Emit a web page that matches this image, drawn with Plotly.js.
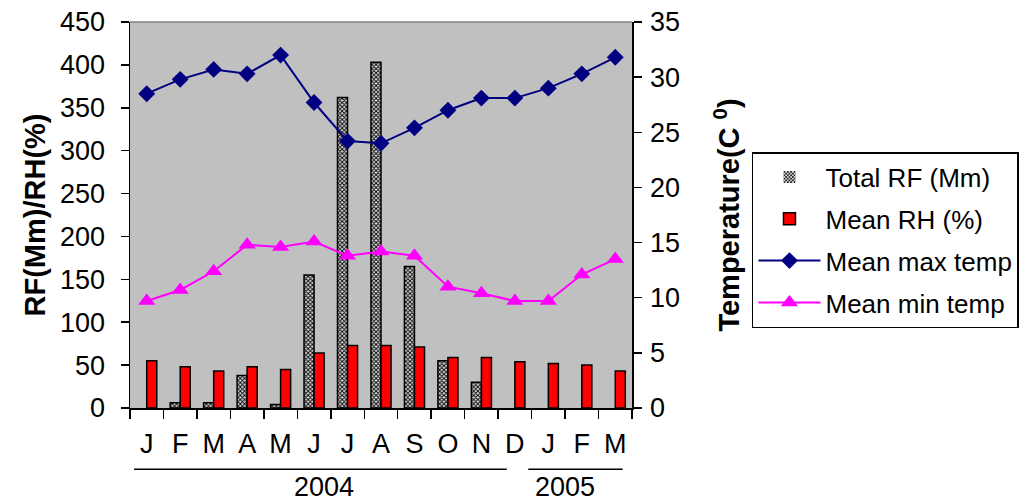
<!DOCTYPE html>
<html>
<head>
<meta charset="utf-8">
<script src="https://cdn.plot.ly/plotly-3.0.1.min.js"></script>
<style>
  html, body { margin: 0; padding: 0; background: #ffffff; }
  #chart { width: 1036px; height: 502px; }
</style>
</head>
<body>
<div id="chart"></div>
<script>
// ---- data ----
const months = ["Jan 2004","Feb 2004","Mar 2004","Apr 2004","May 2004","Jun 2004","Jul 2004","Aug 2004","Sep 2004","Oct 2004","Nov 2004","Dec 2004","Jan 2005","Feb 2005","Mar 2005"];
const monthLabels = ["J","F","M","A","M","J","J","A","S","O","N","D","J","F","M"];
const totalRF = [0, 6, 6, 38, 4, 155, 362, 403, 165, 55, 30, 0, 0, 0, 0];
const meanRH = [55, 48, 43, 48, 45, 64, 73, 73, 71, 59, 59, 54, 52, 50, 43];
const meanMaxTemp = [28.5, 29.8, 30.7, 30.3, 32.0, 27.7, 24.2, 24.0, 25.4, 27.0, 28.1, 28.1, 29.0, 30.3, 31.8];
const meanMinTemp = [9.7, 10.7, 12.4, 14.8, 14.6, 15.1, 13.8, 14.2, 13.8, 11.0, 10.4, 9.7, 9.7, 12.1, 13.5];
const years = ["2004", "2005"];

const font = "Liberation Sans, Arial, sans-serif";
const TICK = 27;

const traces = [
  {
    type: "bar", name: "Total RF (Mm)", x: months, y: totalRF, yaxis: "y",
    legendgroup: "a",
    marker: {
      color: "#909090",
      line: { color: "#000000", width: totalRF.map(v => v > 0 ? 1.5 : 0) },
      pattern: { shape: "x", size: 3, fgcolor: "#000000", bgcolor: "#d8d8d8", solidity: 0.5 }
    }
  },
  {
    type: "bar", name: "Mean RH (%)", x: months, y: meanRH, yaxis: "y",
    legendgroup: "b",
    marker: { color: "#ff0000", line: { color: "#000000", width: 1.5 } }
  },
  {
    type: "scatter", mode: "lines+markers", name: "Mean max temp", x: months, y: meanMaxTemp, yaxis: "y2",
    legendgroup: "c",
    line: { color: "#000080", width: 2 },
    marker: { symbol: "diamond", size: 13, color: "#000080" }
  },
  {
    type: "scatter", mode: "lines+markers", name: "Mean min temp", x: months, y: meanMinTemp, yaxis: "y2",
    legendgroup: "d",
    line: { color: "#ff00ff", width: 2 },
    marker: { symbol: "triangle-up", size: 15, color: "#ff00ff" }
  }
];

const layout = {
  width: 1036, height: 502,
  margin: { l: 130, r: 404, t: 22, b: 94, pad: 0 },
  paper_bgcolor: "#ffffff",
  plot_bgcolor: "#c0c0c0",
  font: { family: font, size: TICK, color: "#000000" },
  barmode: "group",
  bargap: 0.4,
  bargroupgap: 0,
  showlegend: true,
  legend: {
    x: 1.239, y: 0.663, xanchor: "left", yanchor: "top",
    bgcolor: "#ffffff", bordercolor: "#000000", borderwidth: 1.5,
    font: { family: font, size: 26, color: "#000000" },
    itemwidth: 62,
    tracegroupgap: 5,
    traceorder: "grouped"
  },
  xaxis: {
    type: "category",
    categoryorder: "array", categoryarray: months,
    tickmode: "array", tickvals: months, ticktext: monthLabels,
    tickson: "boundaries",
    ticks: "outside", ticklen: 9, tickwidth: 1.5, tickcolor: "#000000",
    ticklabelstandoff: 11,
    showline: true, linecolor: "#000000", linewidth: 1.5,
    showgrid: false, zeroline: false,
    tickfont: { family: font, size: TICK },
    range: [-0.5, 14.5]
  },
  yaxis: {
    range: [0, 450], dtick: 50, tick0: 0,
    ticks: "outside", ticklen: 8, tickwidth: 1.5, tickcolor: "#000000",
    ticklabelstandoff: 10,
    showline: true, linecolor: "#000000", linewidth: 1.5,
    showgrid: false, zeroline: false,
    tickfont: { family: font, size: TICK },
    title: { text: "<b>RF(Mm)/RH(%)</b>", font: { family: font, size: 29 }, standoff: 6 }
  },
  yaxis2: {
    overlaying: "y", side: "right",
    range: [0, 35], dtick: 5, tick0: 0,
    ticks: "outside", ticklen: 8, tickwidth: 1.5, tickcolor: "#000000",
    ticklabelstandoff: 3,
    showline: true, linecolor: "#000000", linewidth: 1.5,
    showgrid: false, zeroline: false,
    tickfont: { family: font, size: TICK },
    title: { text: "<b>Temperature(C <sup>0</sup>)</b>", font: { family: font, size: 29 }, standoff: 40 }
  },
  shapes: [
    { type: "line", xref: "x", yref: "paper", x0: -0.38, x1: 10.76, y0: -0.159, y1: -0.159, line: { color: "#000000", width: 1.5 } },
    { type: "line", xref: "x", yref: "paper", x0: 11.40, x1: 14.22, y0: -0.159, y1: -0.159, line: { color: "#000000", width: 1.5 } },
    { type: "line", xref: "paper", yref: "paper", x0: 0, x1: 1, y0: 1, y1: 1, line: { color: "#808080", width: 1.5 } }
  ],
  annotations: [
    { xref: "x", yref: "paper", x: 5.29, y: -0.205, text: years[0], showarrow: false, xanchor: "center", yanchor: "middle", font: { family: font, size: TICK } },
    { xref: "x", yref: "paper", x: 12.5, y: -0.205, text: years[1], showarrow: false, xanchor: "center", yanchor: "middle", font: { family: font, size: TICK } }
  ]
};

Plotly.newPlot("chart", traces, layout, { displayModeBar: false, staticPlot: true });
</script>
</body>
</html>
